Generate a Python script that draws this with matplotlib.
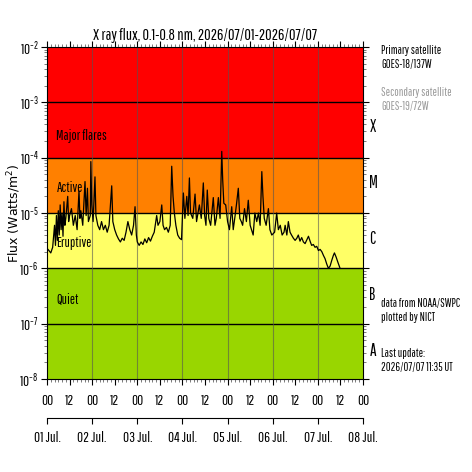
import matplotlib
matplotlib.use("Agg")
import matplotlib.pyplot as plt
from matplotlib.ticker import FixedLocator, LogLocator, NullFormatter

# --- Data: GOES X-ray flux (hours since 2026/07/01 00 UT, flux in 1e-6 W/m2) ---
hours = [0, 1, 2, 3, 4, 4.5, 5, 5.5, 6, 6.5, 7, 7.5, 8, 8.5, 9, 9.5, 10, 11, 11.5, 12,
         13, 14, 15, 16, 17, 17.5, 18, 19, 20.2, 20.8, 21.5, 22, 23, 23.3, 23.8, 24.5, 25.5, 26, 27, 28,
         29, 30, 31, 32, 33, 34.4, 35, 36, 37, 38, 39, 40, 41, 42, 43, 44, 45, 46, 46.8, 47.5,
         48, 49, 50, 51, 52, 53, 54, 55, 56, 57, 58.3, 59, 60, 61, 61.7, 62.5, 63.5, 64.5, 65.5, 66.3,
         67, 67.7, 68.5, 69.5, 70.5, 71.5, 72.5, 73.3, 74.3, 75, 75.7, 76.3, 77.5, 78.7, 79.5, 81, 82, 83.1, 83.8, 84.5,
         85.2, 86, 87, 88.4, 89.3, 90, 91.1, 92, 92.9, 93.4, 94, 95, 96, 97, 98.2, 99, 100, 100.8, 101.7, 102.5,
         103.3, 104, 105, 106, 107, 108, 109.6, 110.5, 111.5, 112.4, 113.3, 114.2, 114.8, 115.5, 116.5, 117.7, 118.5, 119.5, 121, 122.1,
         123, 124, 125, 126, 126.6, 127.5, 128.3, 129.2, 130, 131, 131.9, 132.8, 133.6, 134.5, 135.4, 136.3, 137.2, 138, 139, 140,
         140.7, 141.6, 142.5, 143.4, 144.3, 145.2, 146.1, 147, 147.8, 148.7, 149.6, 150.5, 151.4, 152.2, 152.8, 153.7, 154.6, 155.8]
flux_e6 = [2.3, 2.1, 1.9, 2.4, 6, 2.6, 9, 3.2, 11, 4, 14, 5, 10, 3.8, 16, 6, 8, 20, 7, 9,
           12, 6, 9, 5, 25, 8, 11, 6, 37, 9, 28, 7, 9, 85, 14, 7, 45, 9, 6, 5,
           7, 5, 6, 4.5, 6, 31, 7, 5, 4, 3.4, 3, 3.5, 3.2, 4.5, 7, 5, 4, 6, 13, 4,
           3, 2.6, 3, 2.7, 3.4, 2.9, 3.6, 3.1, 3.8, 4.5, 9, 6, 7, 14, 6, 5, 5.5, 4.5, 6, 70,
           20, 10, 6, 4, 3.5, 3.3, 23, 8, 20, 9, 43, 10, 8, 22, 7, 14, 8, 35, 9, 6,
           26, 8, 6, 19, 6, 8, 19, 8, 130, 40, 15, 14, 7, 5, 13, 5, 9, 15, 28, 8,
           7, 6, 12, 7, 17, 6, 4, 10, 7, 10, 6, 56, 20, 8, 6, 12, 5, 4, 4.5, 10,
           5, 6, 4, 4.5, 6, 4, 7, 4.5, 4, 3.5, 3.2, 3.5, 4, 3.1, 3.6, 3.0, 2.8, 3.2, 3.8, 3.0,
           2.6, 2.7, 2.4, 2.5, 2.1, 2.2, 2.0, 1.7, 1.5, 1.2, 1.0, 1.1, 1.4, 1.7, 1.9, 1.6, 1.3, 1.0]
flux = [v * 1e-6 for v in flux_e6]

# class bands
band_edges = [1e-8, 1e-6, 1e-5, 1e-4, 1e-2]
band_colors = ["#99d600", "#ffff66", "#ff8000", "#ff0000"]
band_names = ["Quiet", "Eruptive", "Active", "Major flares"]
band_label_y = [10**-6.55, 10**-5.55, 10**-4.55, 10**-3.6]
class_letters = ["X", "M", "C", "B", "A"]
class_y = [10**-3.45, 10**-4.46, 10**-5.47, 10**-6.48, 10**-7.49]
day_labels = ["01 Jul.", "02 Jul.", "03 Jul.", "04 Jul.", "05 Jul.", "06 Jul.", "07 Jul.", "08 Jul."]

plt.rcParams["font.family"] = ["Pathway Gothic One", "DejaVu Sans"]
plt.rcParams["mathtext.fontset"] = "dejavusans"

fig = plt.figure(figsize=(4.72, 4.72), dpi=100)
ax = fig.add_axes([0.0996, 0.197, 0.6695, 0.7034])

for lo, hi, c in zip(band_edges[:-1], band_edges[1:], band_colors):
    ax.axhspan(lo, hi, color=c, zorder=0, lw=0)
for e in [1e-7, 1e-6, 1e-5, 1e-4, 1e-3]:
    ax.axhline(e, color="black", lw=1.0, zorder=1)
for d in range(1, 7):
    ax.axvline(d * 24, color="#555555", lw=0.8, alpha=0.6, zorder=1)

ax.plot(hours, flux, color="black", lw=0.9, zorder=3)

for name, yy in zip(band_names, band_label_y):
    ax.text(5, yy, name, fontsize=10, va="center", ha="left", zorder=4)

ax.set_yscale("log")
ax.set_ylim(1e-8, 1e-2)
ax.set_xlim(0, 168)
ax.yaxis.set_minor_locator(LogLocator(base=10, subs=range(2, 10)))
ax.yaxis.set_minor_formatter(NullFormatter())
ax.set_xticks(range(0, 169, 12))
ax.set_xticklabels(["00" if h % 24 == 0 else "12" for h in range(0, 169, 12)])
ax.xaxis.set_minor_locator(FixedLocator(range(0, 169, 2)))
ax.tick_params(which="both", direction="out", top=True, right=True)
ax.tick_params(which="major", length=4, pad=2)
ax.tick_params(which="minor", length=2, color="#666666")
ax.tick_params(axis="y", labelsize=10.5)
ax.tick_params(axis="x", labelsize=10.5, pad=7)
ax.set_ylabel("Flux (Watts/m$^2$)", fontsize=9, family="DejaVu Sans")
ax.yaxis.set_label_coords(-0.075, 0.5)
ax.set_title("X ray flux, 0.1-0.8 nm, 2026/07/01-2026/07/07", fontsize=11.5, pad=5)

for letter, yy in zip(class_letters, class_y):
    ax.text(1.02, yy, letter, transform=ax.get_yaxis_transform(), fontsize=12,
            va="center", ha="left")

# day axis below
ax2 = fig.add_axes([0.0996, 0.1144, 0.6695, 0.0001])
ax2.set_xlim(0, 7)
ax2.set_yticks([])
for s in ["top", "left", "right"]:
    ax2.spines[s].set_visible(False)
ax2.set_xticks(range(8))
ax2.set_xticklabels(day_labels)
ax2.tick_params(axis="x", length=4, labelsize=10.5, pad=5)
ax2.patch.set_visible(False)

fig.text(0.807, 0.905, "Primary satellite\nGOES-18/137W", fontsize=8.5, va="top", ha="left", linespacing=1.3)
fig.text(0.807, 0.815, "Secondary satellite\nGOES-19/72W", fontsize=8.5, va="top", ha="left",
         color="#999999", linespacing=1.3)
fig.text(0.807, 0.368, "data from NOAA/SWPC\nplotted by NICT", fontsize=8.5, va="top", ha="left", linespacing=1.3)
fig.text(0.807, 0.262, "Last update:\n2026/07/07 11:35 UT", fontsize=8.5, va="top", ha="left", linespacing=1.3)

fig.savefig("out.png", dpi=100)
